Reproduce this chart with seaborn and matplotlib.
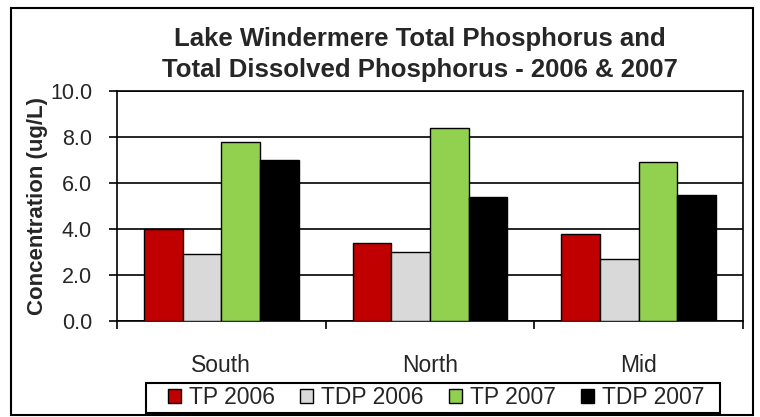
import pandas as pd
import matplotlib.pyplot as plt
import seaborn as sns
from matplotlib.patches import Rectangle

sites = ["South", "North", "Mid"]
series = ["TP 2006", "TDP 2006", "TP 2007", "TDP 2007"]
tp_2006 = [4.0, 3.4, 3.8]
tdp_2006 = [2.9, 3.0, 2.7]
tp_2007 = [7.8, 8.4, 6.9]
tdp_2007 = [7.0, 5.4, 5.5]
colors = ["#C00000", "#D9D9D9", "#92D050", "#000000"]

rows = []
for name, vals in zip(series, [tp_2006, tdp_2006, tp_2007, tdp_2007]):
    for s, v in zip(sites, vals):
        rows.append({"Site": s, "Series": name, "Value": v})
df = pd.DataFrame(rows)

sns.set_style("white")
plt.rcParams["font.family"] = ["Liberation Sans", "DejaVu Sans"]

W, H = 760, 417
fig = plt.figure(figsize=(7.6, 4.17), dpi=100)
ax = fig.add_axes([117 / W, 1 - 321 / H, 626 / W, 230 / H])

sns.barplot(data=df, x="Site", y="Value", hue="Series", hue_order=series,
            order=sites, palette=colors, width=0.74, edgecolor="black",
            linewidth=1.0, saturation=1, ax=ax, zorder=3)

ax.set_ylim(0, 10)
ax.set_xlim(-0.5, 2.5)
ax.set_yticks([0, 2, 4, 6, 8, 10])
ax.set_yticklabels([f"{v:.1f}" for v in [0, 2, 4, 6, 8, 10]], fontsize=15.5)
ax.yaxis.grid(True, color="black", linewidth=1.2, zorder=0)
ax.set_axisbelow(True)

# category boundaries carry the tick marks, labels sit between them
ax.set_xticks([-0.5, 0.5, 1.5, 2.5])
ax.set_xticklabels([])
ax.set_xticks([0, 1, 2], minor=True)
ax.set_xticklabels(sites, minor=True, fontsize=16.5)
ax.tick_params(axis="x", which="major", direction="out", length=6, width=1.2,
               bottom=True, color="black")
ax.tick_params(axis="x", which="minor", length=0, pad=24)
ax.tick_params(axis="y", direction="out", length=6, width=1.2, left=True,
               color="black", pad=12)

for sp in ax.spines.values():
    sp.set_color("black")
    sp.set_linewidth(1.2)

ax.set_xlabel("")
ax.set_ylabel("Concentration (ug/L)", fontsize=16, fontweight="bold", va="center")
ax.yaxis.set_label_coords((38 - 117) / 626, 0.5)

fig.text(420 / W, 1 - 46 / H, "Lake Windermere Total Phosphorus and",
         ha="center", va="baseline", fontsize=18.5, fontweight="bold")
fig.text(420 / W, 1 - 77 / H, "Total Dissolved Phosphorus - 2006 & 2007",
         ha="center", va="baseline", fontsize=18.5, fontweight="bold")

leg = ax.legend(loc="center", bbox_to_anchor=(436 / W, 1 - 398 / H),
                bbox_transform=fig.transFigure, ncol=4, frameon=False,
                fontsize=16.5, handlelength=0.57, handleheight=0.57,
                handletextpad=0.35, columnspacing=1.1, borderpad=0.1)
for h in leg.legend_handles:
    h.set_linewidth(1.0)
    h.set_edgecolor("black")

fig.patches.append(Rectangle((146 / W, 1 - 413 / H), 574 / W, 30 / H,
                             transform=fig.transFigure, fill=False,
                             edgecolor="black", linewidth=1.5))
fig.patches.append(Rectangle((11 / W, 1 - 415 / H), 742 / W, 407 / H,
                             transform=fig.transFigure, fill=False,
                             edgecolor="black", linewidth=1.5))

fig.savefig("out.png", dpi=100)
